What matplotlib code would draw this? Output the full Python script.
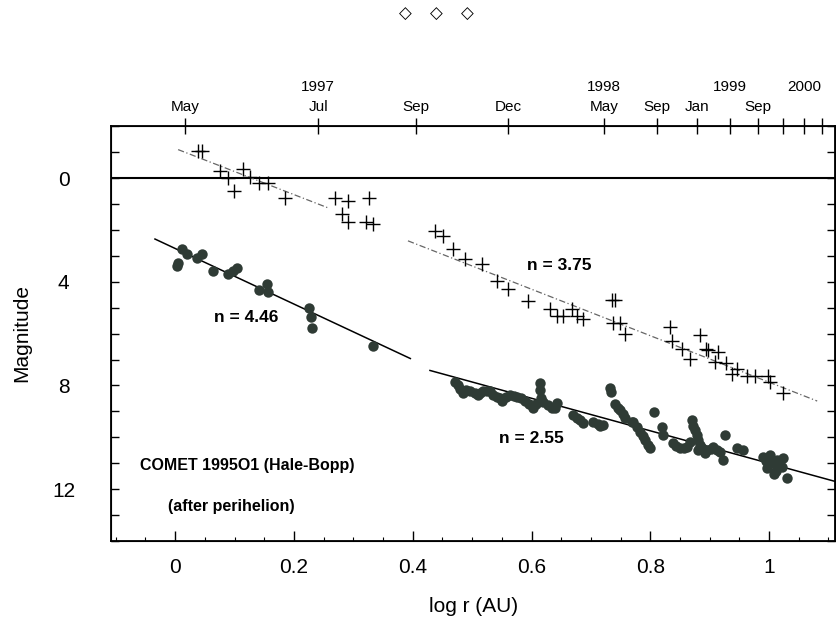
import matplotlib.pyplot as plt
from matplotlib.ticker import MultipleLocator

plt.rcParams['font.family'] = ['Liberation Sans', 'DejaVu Sans']

# log r (AU) and magnitude
cross_x = [0.039, 0.045, 0.076, 0.089, 0.099, 0.114, 0.126, 0.141, 0.157, 0.185,
           0.269, 0.291, 0.327, 0.281, 0.291, 0.322, 0.333,
           0.438, 0.451, 0.468, 0.488, 0.517, 0.542, 0.561, 0.594, 0.631, 0.643,
           0.653, 0.668, 0.677, 0.687, 0.736, 0.741, 0.737, 0.749, 0.758, 0.833,
           0.836, 0.853, 0.867, 0.884, 0.894, 0.897, 0.914, 0.909, 0.928, 0.937,
           0.946, 0.963, 0.976, 0.998, 1.002, 1.024]
cross_mag = [-1.04, -1.04, -0.27, 0.0, 0.5, -0.35, -0.04, 0.2, 0.2, 0.77,
             0.77, 0.9, 0.77, 1.38, 1.69, 1.69, 1.77,
             2.04, 2.23, 2.73, 3.12, 3.31, 3.96, 4.27, 4.73, 5.04, 5.31,
             5.31, 5.04, 5.31, 5.42, 4.7, 4.7, 5.58, 5.58, 6.0, 5.73,
             6.3, 6.58, 6.96, 6.04, 6.58, 6.65, 6.69, 7.1, 7.15, 7.54,
             7.35, 7.65, 7.65, 7.65, 7.88, 8.3]

dot_x = [0.003, 0.005, 0.012, 0.02, 0.037, 0.045, 0.064, 0.089, 0.097, 0.104,
         0.141, 0.155, 0.157, 0.226, 0.229, 0.231, 0.333,
         0.471, 0.476, 0.48, 0.49, 0.497, 0.505, 0.51, 0.519, 0.525, 0.53,
         0.536, 0.542, 0.55, 0.557, 0.564, 0.57, 0.576, 0.583, 0.589, 0.596,
         0.603, 0.614, 0.614, 0.616, 0.62, 0.628, 0.635, 0.64, 0.643, 0.67,
         0.676, 0.682, 0.704, 0.712, 0.72, 0.732, 0.734, 0.741, 0.745, 0.749,
         0.754, 0.758, 0.769, 0.771, 0.777, 0.783, 0.787, 0.791, 0.796, 0.8,
         0.806, 0.82, 0.822, 0.838, 0.844, 0.85, 0.856, 0.862, 0.867, 0.87,
         0.872, 0.875, 0.878, 0.88, 0.884, 0.887, 0.896, 0.902, 0.906, 0.912,
         0.918, 0.923, 0.926, 0.946, 0.956, 0.99, 0.995, 1.002, 1.006, 1.013,
         1.018, 1.022, 1.024, 1.012, 1.03,
         0.484, 0.514, 0.547, 0.608, 0.686, 0.716, 0.88, 0.892, 0.997, 1.008]
dot_mag = [3.38, 3.27, 2.73, 2.92, 3.08, 2.92, 3.58, 3.69, 3.6, 3.46,
           4.31, 4.08, 4.38, 5.0, 5.35, 5.77, 6.46,
           7.88, 8.0, 8.12, 8.18, 8.2, 8.3, 8.38, 8.2, 8.2, 8.2,
           8.35, 8.46, 8.58, 8.45, 8.38, 8.42, 8.46, 8.5, 8.58, 8.7,
           8.85, 7.92, 8.19, 8.5, 8.65, 8.77, 8.85, 8.88, 8.69, 9.15,
           9.25, 9.35, 9.42, 9.5, 9.54, 8.08, 8.27, 8.7, 8.85, 8.96,
           9.1, 9.27, 9.42, 9.42, 9.6, 9.81, 9.95, 10.12, 10.28, 10.42,
           9.04, 9.6, 9.92, 10.23, 10.35, 10.42, 10.4, 10.38, 10.19, 9.35,
           9.55, 9.73, 9.92, 10.12, 10.3, 10.42, 10.5, 10.45, 10.38, 10.5,
           10.58, 10.88, 9.92, 10.42, 10.5, 10.75, 10.9, 10.69, 11.0, 10.88,
           11.1, 11.15, 10.81, 11.3, 11.58,
           8.3, 8.3, 8.5, 8.7, 9.45, 9.55, 10.5, 10.6, 11.2, 11.4]

# fitted curves (end points)
fit1_x, fit1_mag = [-0.034, 0.396], [2.35, 6.96]
fit2_x, fit2_mag = [0.429, 1.111], [7.42, 11.7]
fit3a_x, fit3a_mag = [0.005, 0.26], [-1.1, 1.17]
fit3b_x, fit3b_mag = [0.392, 1.081], [2.42, 8.6]

bottom_ticks = [0, 0.2, 0.4, 0.6, 0.8, 1.0]
bottom_labels = ['0', '0.2', '0.4', '0.6', '0.8', '1']
top_ticks = [0.017, 0.241, 0.406, 0.561, 0.722, 0.811, 0.879, 0.934, 0.981,
             1.023, 1.059, 1.089]
top_labels = ['May', '1997\nJul', 'Sep', 'Dec', '1998\nMay', 'Sep', 'Jan',
              '1999\n', 'Sep', '', '2000\n', '']

fig = plt.figure(figsize=(8.36, 6.19), dpi=100)
ax = fig.add_axes([0.1328, 0.126, 0.866, 0.67])

ax.axhline(0, color='black', lw=1.5, zorder=1)
ax.plot(fit1_x, fit1_mag, color='black', lw=1.1)
ax.plot(fit2_x, fit2_mag, color='black', lw=1.1)
ax.plot(fit3a_x, fit3a_mag, color='#666666', lw=0.9, linestyle=(0, (5, 2, 1, 2)))
ax.plot(fit3b_x, fit3b_mag, color='#666666', lw=0.9, linestyle=(0, (5, 2, 1, 2)))

ax.plot(cross_x, cross_mag, linestyle='none', marker='+', ms=10.5, mew=1.0,
        color='black')
ax.plot(dot_x, dot_mag, linestyle='none', marker='o', ms=7.5, mew=0,
        color='#2f3b35')

ax.text(0.12, 5.38, 'n = 4.46', fontsize=12.5, fontweight='bold', ha='center', va='center')
ax.text(0.647, 3.38, 'n = 3.75', fontsize=12.5, fontweight='bold', ha='center', va='center')
ax.text(0.60, 10.04, 'n = 2.55', fontsize=12.5, fontweight='bold', ha='center', va='center')
ax.text(-0.059, 11.08, 'COMET 1995O1 (Hale-Bopp)', fontsize=11.5, fontweight='bold',
        ha='left', va='center')
ax.text(-0.012, 12.65, '(after perihelion)', fontsize=11.5, fontweight='bold',
        ha='left', va='center')

ax.set_xlim(-0.108, 1.111)
ax.set_ylim(14, -2)
ax.set_xticks(bottom_ticks)
ax.set_xticklabels(bottom_labels)
ax.xaxis.set_minor_locator(MultipleLocator(0.05))
ax.set_yticks([0, 4, 8, 12])
ax.yaxis.set_minor_locator(MultipleLocator(1))
ax.tick_params(axis='x', which='major', direction='in', length=7, width=1,
               labelsize=15, pad=12, top=False)
ax.tick_params(axis='x', which='minor', direction='in', length=3, width=0.8, top=False)
ax.tick_params(axis='y', which='both', direction='in', length=6, width=1,
               right=True, labelsize=15, pad=34)
for lab in ax.get_yticklabels():
    lab.set_horizontalalignment('center')
for sp in ax.spines.values():
    sp.set_linewidth(1.3)

top = ax.twiny()
top.set_xlim(ax.get_xlim())
top.set_xticks(top_ticks)
top.set_xticklabels(top_labels, fontsize=11, linespacing=1.5)
top.tick_params(axis='x', direction='inout', length=12, width=1, pad=3)

fig.text(0.026, 0.462, 'Magnitude', rotation=90, fontsize=15, ha='center', va='center')
fig.text(0.567, 0.021, 'log r (AU)', fontsize=15, ha='center', va='center')
for xp in [405, 436, 467]:
    fig.text(xp / 836, 1 - 14 / 619, '\u25c7', fontsize=12, ha='center', va='center')

fig.savefig('out.png', dpi=100)
